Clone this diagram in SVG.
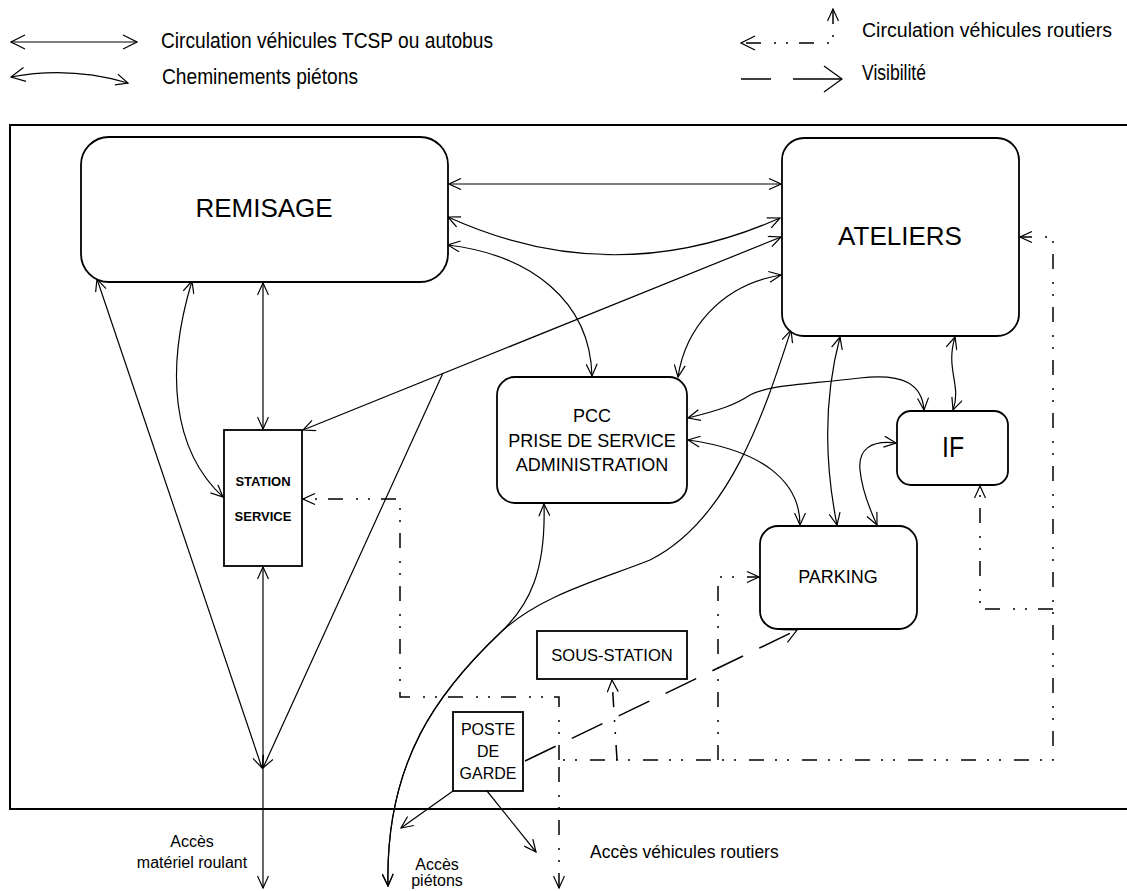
<svg xmlns="http://www.w3.org/2000/svg" width="1127" height="891" viewBox="0 0 1127 891">
<style>
  text { font-family: "Liberation Sans", Arial, sans-serif; fill: #000; }
  .box { fill: #fff; stroke: #000; stroke-width: 1.8; }
  .c { fill: none; stroke: #000; stroke-width: 1.2; }
  .r { fill: none; stroke: #000; stroke-width: 1.5; stroke-dasharray: 15 11 2 10 2 13; }
  .v { fill: none; stroke: #000; stroke-width: 1.5; stroke-dasharray: 34 18; }
  .lbl { font-size: 16px; text-anchor: middle; }
</style>
<defs>
  <marker id="a" viewBox="0 0 14 12" refX="13" refY="6" markerWidth="14" markerHeight="12" markerUnits="userSpaceOnUse" orient="auto-start-reverse">
    <path d="M1,0.5 L13,6 L1,11.5" fill="none" stroke="#000" stroke-width="1.2" stroke-dasharray="none"/>
  </marker>
  <marker id="m" viewBox="0 0 16 16" refX="15" refY="8" markerWidth="16" markerHeight="16" markerUnits="userSpaceOnUse" orient="auto-start-reverse">
    <path d="M1,1 L15,8 L1,15" fill="none" stroke="#000" stroke-width="1.2" stroke-dasharray="none"/>
  </marker>
  <marker id="b" viewBox="0 0 20 28" refX="19" refY="14" markerWidth="20" markerHeight="28" markerUnits="userSpaceOnUse" orient="auto-start-reverse">
    <path d="M1,1 L19,14 L1,27" fill="none" stroke="#000" stroke-width="1.3" stroke-dasharray="none"/>
  </marker>
</defs>
<rect width="1127" height="891" fill="#fff"/>

<g id="legend">
  <path class="c" d="M11,42 L137,42" marker-start="url(#m)" marker-end="url(#m)"/>
  <text x="161" y="48" font-size="22" textLength="332" lengthAdjust="spacingAndGlyphs">Circulation véhicules TCSP ou autobus</text>
  <path class="c" d="M11,77 Q70,66 128,83" marker-start="url(#m)" marker-end="url(#a)"/>
  <text x="162" y="84" font-size="22" textLength="196" lengthAdjust="spacingAndGlyphs">Cheminements piétons</text>
  <path class="r" d="M833,9 L833,43 L741,43" marker-start="url(#a)" marker-end="url(#m)"/>
  <text x="862" y="37" font-size="20" textLength="250" lengthAdjust="spacingAndGlyphs">Circulation véhicules routiers</text>
  <path fill="none" stroke="#000" stroke-width="1.5" stroke-dasharray="30 22 60" d="M741,79 L842,79" marker-end="url(#b)"/>
  <text x="862" y="80" font-size="22" textLength="64" lengthAdjust="spacingAndGlyphs">Visibilité</text>
</g>

<g id="frame">
  <path d="M1127,125 L10,125 L10,809 L1127,809" fill="none" stroke="#000" stroke-width="2"/>
</g>

<g id="connectors">
  <!-- road vehicle routes -->
  <path class="r" d="M559,888 L559,760 L1053,760 L1053,237 L1020,237" marker-start="url(#a)" marker-end="url(#a)"/>
  <path class="r" d="M559,760 L559,697 L400,697 L400,499 L303,499" marker-end="url(#a)"/>
  <path class="r" d="M718,760 L718,577 L759,577" marker-end="url(#a)"/>
  <path class="r" d="M617,760 L612,680" marker-end="url(#a)"/>
  <path class="r" d="M1053,609 L980,609 L980,486" marker-end="url(#a)"/>
  <!-- visibility -->
  <path class="v" d="M525,761 L797,630" marker-end="url(#m)"/>
  <!-- vehicles and pedestrians -->
  <path class="c" d="M449,184 L781,184" marker-start="url(#a)" marker-end="url(#a)"/>
  <path class="c" d="M448,217 Q613,292 780,218" marker-start="url(#a)" marker-end="url(#a)"/>
  <path class="c" d="M448,245 C530,255 590,300 592,376" marker-start="url(#a)" marker-end="url(#a)"/>
  <path class="c" d="M303,430 L781,237" marker-start="url(#a)" marker-end="url(#a)"/>
  <path class="c" d="M97,279 L262,768" marker-start="url(#a)" marker-end="url(#a)"/>
  <path class="c" d="M443,373 L263,768" marker-end="url(#a)"/>
  <path class="c" d="M263,283 L263,429" marker-start="url(#a)" marker-end="url(#a)"/>
  <path class="c" d="M263,567 L263,888" marker-start="url(#a)" marker-end="url(#a)"/>
  <path class="c" d="M192,281 C165,370 172,450 223,497" marker-start="url(#a)" marker-end="url(#a)"/>
  <path class="c" d="M781,275 C720,285 685,330 678,377" marker-start="url(#a)" marker-end="url(#a)"/>
  <path class="c" d="M544,504 C546,570 530,605 500,633 C440,690 385,760 388,886" marker-start="url(#a)" marker-end="url(#a)"/>
  <path class="c" d="M791,330 C765,410 730,520 650,560 C600,580 540,595 500,633 C440,690 385,760 388,886" marker-start="url(#a)" marker-end="url(#a)"/>
  <path class="c" d="M840,337 C826,390 822,450 837,525" marker-start="url(#a)" marker-end="url(#a)"/>
  <path class="c" d="M955,337 C945,370 962,385 953,410" marker-start="url(#a)" marker-end="url(#a)"/>
  <path class="c" d="M688,418 C720,410 735,405 750,395 C770,385 800,385 860,378 C905,373 922,385 924,410" marker-start="url(#a)" marker-end="url(#a)"/>
  <path class="c" d="M688,440 C760,450 800,480 800,525" marker-start="url(#a)" marker-end="url(#a)"/>
  <path class="c" d="M896,443 C870,440 858,450 860,470 C862,490 870,510 877,525" marker-start="url(#a)" marker-end="url(#a)"/>
  <path class="c" d="M453,791 L401,828" marker-end="url(#a)"/>
  <path class="c" d="M487,791 L536,852" marker-end="url(#a)"/>
</g>

<g id="remisage">
  <rect class="box" x="81" y="137" width="367" height="145" rx="28"/>
  <text x="264" y="217" font-size="26" text-anchor="middle">REMISAGE</text>
</g>
<g id="ateliers">
  <rect class="box" x="782" y="138" width="237" height="198" rx="22"/>
  <text x="900" y="245" font-size="26" text-anchor="middle">ATELIERS</text>
</g>
<g id="pcc">
  <rect class="box" x="497" y="377" width="190" height="126" rx="18"/>
  <text x="592" y="422" font-size="18" text-anchor="middle">PCC</text>
  <text x="592" y="447" font-size="18" text-anchor="middle">PRISE DE SERVICE</text>
  <text x="592" y="471" font-size="18" text-anchor="middle">ADMINISTRATION</text>
</g>
<g id="if">
  <rect class="box" x="897" y="411" width="111" height="74" rx="14"/>
  <text x="942" y="457" font-size="30" textLength="22" lengthAdjust="spacingAndGlyphs">IF</text>
</g>
<g id="parking">
  <rect class="box" x="760" y="526" width="157" height="103" rx="18"/>
  <text x="838" y="583" font-size="18" text-anchor="middle">PARKING</text>
</g>
<g id="station-service">
  <rect class="box" x="224" y="430" width="78" height="136"/>
  <text x="263" y="486" font-size="13" font-weight="bold" text-anchor="middle">STATION</text>
  <text x="263" y="521" font-size="13" font-weight="bold" text-anchor="middle">SERVICE</text>
</g>
<g id="sous-station">
  <rect class="box" x="537" y="631" width="150" height="48"/>
  <text x="612" y="661" font-size="16.5" text-anchor="middle">SOUS-STATION</text>
</g>
<g id="poste-de-garde">
  <rect class="box" x="453" y="712" width="70" height="79"/>
  <text x="488" y="735" font-size="16" text-anchor="middle">POSTE</text>
  <text x="488" y="757" font-size="16" text-anchor="middle">DE</text>
  <text x="488" y="779" font-size="16" text-anchor="middle">GARDE</text>
</g>

<g id="labels">
  <text class="lbl" x="192" y="847" font-size="15.5">Accès</text>
  <text class="lbl" x="192" y="868" font-size="15.5">matériel roulant</text>
  <text class="lbl" x="437" y="870" font-size="15.5">Accès</text>
  <text class="lbl" x="437" y="886" font-size="15.5">piétons</text>
  <text x="590" y="858" font-size="17.5">Accès véhicules routiers</text>
</g>
</svg>
